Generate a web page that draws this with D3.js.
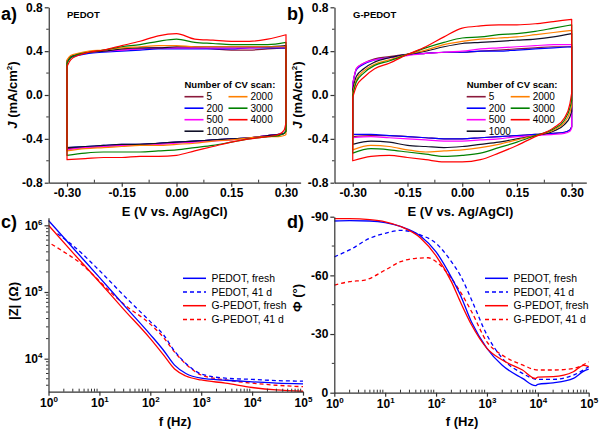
<!DOCTYPE html>
<html><head><meta charset="utf-8">
<script src="https://cdn.jsdelivr.net/npm/d3@7"></script>
<style>
body{margin:0;background:#fff;}
svg{display:block;font-family:Arial,"Liberation Sans",sans-serif;}
.ax .tick text{font-weight:bold;font-size:12px;fill:#000;}
.ax .domain,.ax .tick line{stroke:#333;stroke-width:1.2;}
</style></head><body>
<svg id="chart" width="600" height="430"></svg>
<script>
// ---------- CV data ----------
const cvScans = ["5", "200", "500", "1000", "2000", "3000", "4000"];
const cvColors = ["#8b1a3c", "#0000ff", "#ff00ff", "#101028", "#ff8000", "#008000", "#ff0000"];
const cvUpperE = [-0.30, -0.29, -0.27, -0.24, -0.20, -0.15, -0.10, -0.05, 0.00, 0.05, 0.10, 0.15, 0.20, 0.25, 0.30];
const cvLowerE = [0.30, 0.295, 0.28, 0.25, 0.20, 0.15, 0.10, 0.05, 0.00, -0.05, -0.10, -0.15, -0.20, -0.25, -0.30];
const eTicks = [-0.30, -0.15, 0.00, 0.15, 0.30];
const jTicks = [-0.8, -0.4, 0.0, 0.4, 0.8];

// PEDOT (panel a)
const pedotUpper = [
  [0.31, 0.35, 0.37, 0.39, 0.40, 0.41, 0.42, 0.43, 0.43, 0.43, 0.42, 0.41, 0.41, 0.42, 0.43],
  [0.30, 0.34, 0.36, 0.38, 0.39, 0.40, 0.41, 0.42, 0.42, 0.42, 0.42, 0.42, 0.43, 0.43, 0.43],
  [0.31, 0.35, 0.37, 0.39, 0.40, 0.41, 0.42, 0.43, 0.43, 0.43, 0.43, 0.43, 0.43, 0.44, 0.44],
  [0.31, 0.35, 0.37, 0.39, 0.40, 0.42, 0.43, 0.43, 0.44, 0.44, 0.44, 0.44, 0.44, 0.44, 0.45],
  [0.32, 0.36, 0.38, 0.40, 0.41, 0.43, 0.44, 0.45, 0.45, 0.44, 0.44, 0.44, 0.44, 0.44, 0.44],
  [0.29, 0.34, 0.37, 0.39, 0.41, 0.44, 0.46, 0.49, 0.51, 0.48, 0.47, 0.46, 0.46, 0.46, 0.48],
  [0.26, 0.32, 0.36, 0.39, 0.41, 0.45, 0.49, 0.54, 0.56, 0.51, 0.50, 0.49, 0.49, 0.51, 0.55]
];
const pedotLower = [
  [-0.33, -0.35, -0.36, -0.37, -0.39, -0.40, -0.41, -0.42, -0.43, -0.44, -0.45, -0.46, -0.47, -0.48, -0.49],
  [-0.32, -0.35, -0.36, -0.37, -0.39, -0.40, -0.41, -0.42, -0.43, -0.44, -0.45, -0.45, -0.46, -0.47, -0.48],
  [-0.33, -0.35, -0.36, -0.37, -0.39, -0.41, -0.42, -0.43, -0.44, -0.45, -0.46, -0.46, -0.47, -0.48, -0.50],
  [-0.33, -0.35, -0.36, -0.37, -0.39, -0.40, -0.41, -0.42, -0.43, -0.44, -0.45, -0.45, -0.46, -0.47, -0.48],
  [-0.36, -0.37, -0.38, -0.38, -0.39, -0.41, -0.42, -0.44, -0.45, -0.46, -0.46, -0.47, -0.48, -0.49, -0.51],
  [-0.33, -0.35, -0.37, -0.38, -0.40, -0.43, -0.46, -0.48, -0.50, -0.51, -0.52, -0.52, -0.52, -0.53, -0.55],
  [-0.25, -0.32, -0.36, -0.38, -0.40, -0.43, -0.47, -0.51, -0.55, -0.56, -0.56, -0.57, -0.57, -0.58, -0.59]
];
// G-PEDOT (panel b)
const gpedotUpper = [
  [0.10, 0.24, 0.29, 0.33, 0.35, 0.37, 0.38, 0.39, 0.39, 0.40, 0.41, 0.42, 0.43, 0.44, 0.44],
  [0.10, 0.23, 0.28, 0.32, 0.34, 0.37, 0.38, 0.39, 0.39, 0.40, 0.40, 0.41, 0.42, 0.43, 0.44],
  [0.10, 0.24, 0.29, 0.32, 0.34, 0.36, 0.38, 0.39, 0.40, 0.42, 0.43, 0.44, 0.45, 0.46, 0.46],
  [0.05, 0.17, 0.24, 0.30, 0.34, 0.37, 0.40, 0.44, 0.47, 0.48, 0.49, 0.50, 0.51, 0.53, 0.56],
  [0.02, 0.14, 0.22, 0.28, 0.32, 0.37, 0.41, 0.46, 0.49, 0.51, 0.52, 0.53, 0.55, 0.57, 0.59],
  [0.00, 0.12, 0.20, 0.27, 0.31, 0.37, 0.43, 0.48, 0.52, 0.53, 0.55, 0.56, 0.58, 0.61, 0.64],
  [-0.02, 0.08, 0.16, 0.24, 0.29, 0.37, 0.44, 0.53, 0.61, 0.63, 0.64, 0.64, 0.65, 0.67, 0.69]
];
const gpedotLower = [
  [-0.29, -0.32, -0.34, -0.35, -0.36, -0.37, -0.38, -0.39, -0.40, -0.40, -0.39, -0.38, -0.37, -0.37, -0.38],
  [-0.29, -0.32, -0.34, -0.35, -0.36, -0.37, -0.38, -0.39, -0.40, -0.40, -0.39, -0.38, -0.37, -0.36, -0.36],
  [-0.30, -0.33, -0.35, -0.36, -0.37, -0.38, -0.40, -0.41, -0.42, -0.42, -0.41, -0.40, -0.39, -0.38, -0.39],
  [-0.15, -0.20, -0.27, -0.33, -0.37, -0.40, -0.43, -0.45, -0.47, -0.48, -0.47, -0.46, -0.43, -0.42, -0.45],
  [-0.10, -0.16, -0.25, -0.32, -0.37, -0.41, -0.45, -0.48, -0.50, -0.51, -0.52, -0.50, -0.47, -0.46, -0.50],
  [-0.05, -0.12, -0.23, -0.31, -0.37, -0.43, -0.48, -0.53, -0.55, -0.56, -0.54, -0.52, -0.50, -0.49, -0.53],
  [0.02, -0.08, -0.21, -0.30, -0.38, -0.46, -0.53, -0.59, -0.61, -0.61, -0.59, -0.57, -0.55, -0.56, -0.60]
];

// ---------- EIS data ----------
const eisNames = ["PEDOT, fresh", "PEDOT, 41 d", "G-PEDOT, fresh", "G-PEDOT, 41 d"];
const eisColors = ["#0000ff", "#0000ff", "#ff0000", "#ff0000"];
const eisDashed = [false, true, false, true];
const fTicks = [1, 10, 100, 1000, 10000, 100000];
const zTicks = [1e4, 1e5, 1e6];
const phiTicks = [0, -30, -60, -90];

// |Z| (ohm) vs f (Hz)
const zFreqPedotFresh = [1, 3, 10, 30, 100, 180, 300, 500, 1000, 3000, 10000, 30000, 100000];
const zPedotFresh = [1.18e6, 4.6e5, 1.66e5, 6.4e4, 2.3e4, 1.35e4, 8000, 6000, 5100, 4750, 4500, 4300, 4200];
const zFreqPedot41 = [1.5, 3, 10, 30, 100, 180, 300, 500, 1000, 3000, 10000, 30000, 100000];
const zPedot41 = [7.5e5, 5.0e5, 2.1e5, 8.9e4, 3.6e4, 2.3e4, 1.3e4, 8500, 5900, 5100, 4900, 4700, 4600];
const zFreqGPedotFresh = [1, 3, 10, 30, 100, 180, 300, 500, 1000, 3000, 10000, 30000, 100000];
const zGPedotFresh = [1.0e6, 3.9e5, 1.41e5, 5.5e4, 2.0e4, 1.15e4, 7000, 5500, 4800, 4300, 3700, 3400, 3250];
const zFreqGPedot41 = [1.15, 2, 4, 7, 15, 30, 100, 180, 300, 500, 1000, 3000, 10000, 30000, 100000];
const zGPedot41 = [5.2e5, 4.0e5, 2.8e5, 1.9e5, 1.07e5, 6.6e4, 3.3e4, 2.1e4, 1.26e4, 8300, 5700, 4800, 4300, 4000, 3800];

// phase (deg) vs f (Hz)
const pFreqFresh = [1, 2, 5, 10, 20, 50, 100, 200, 300, 500, 1000, 2000, 5000, 9000, 10000, 20000, 50000, 80000, 100000];
const phiPedotFresh = [-87.8, -88, -87.8, -87, -85, -80, -72, -59, -50, -36, -22.7, -14, -7.3, -3.6, -4.3, -5, -7.3, -11, -12];
const phiGPedotFresh = [-89, -89, -88.5, -87.4, -85, -79, -70, -56.8, -46.5, -34.6, -22.7, -16.7, -11.6, -7.3, -8, -8.2, -10.7, -14, -13.3];
const pFreqPedot41 = [1, 2, 5, 10, 20, 50, 100, 200, 300, 500, 1000, 2000, 5000, 10000, 20000, 50000, 100000];
const phiPedot41 = [-69.5, -73, -79, -81.5, -83, -80.6, -76.4, -67, -60, -47.4, -29.5, -17.6, -9.9, -6.8, -6.8, -9, -13.3];
const pFreqGPedot41 = [1, 2, 4, 10, 20, 40, 70, 100, 200, 300, 500, 1000, 2000, 5000, 10000, 20000, 50000, 100000];
const phiGPedot41 = [-55, -56.8, -57.6, -62.7, -67, -68.7, -69, -67, -58.5, -51.6, -41.4, -26, -19.2, -14.2, -11.6, -11.6, -12.4, -15.8];

// ---------- drawing ----------
const svg = d3.select("#chart");

function label(x, y, txt, size, weight, anchor) {
  return svg.append("text").attr("x", x).attr("y", y).attr("font-size", size)
    .attr("font-weight", weight || "bold").attr("text-anchor", anchor || "start").text(txt);
}

function minorTicks(g, vals, pos, len, horizontal) {
  vals.forEach(v => {
    if (horizontal) g.append("line").attr("x1", v).attr("x2", v).attr("y1", pos).attr("y2", pos + len).attr("stroke", "#333").attr("stroke-width", 1);
    else g.append("line").attr("y1", v).attr("y2", v).attr("x1", pos).attr("x2", pos + len).attr("stroke", "#333").attr("stroke-width", 1);
  });
}

function cvPanel(cfg, upper, lower) {
  const x = d3.scaleLinear().domain([-0.35, 0.34]).range([cfg.x0, cfg.x1]);
  const y = d3.scaleLinear().domain([-0.8, 0.8]).range([182.7, 7.3]);
  const g = svg.append("g");
  const branch = d3.line().x(d => x(d[0])).y(d => y(d[1])).curve(d3.curveMonotoneX);
  cvScans.forEach((s, i) => {
    const up = cvUpperE.map((e, k) => [e, upper[i][k]]);
    const lo = cvLowerE.map((e, k) => [e, lower[i][k]]);
    const d = branch(up) + branch(lo).replace(/^M/, "L") + "Z";
    g.append("path").attr("d", d).attr("fill", "none").attr("stroke", cvColors[i])
      .attr("stroke-width", 1.2).attr("stroke-linejoin", "round");
  });
  const ax = svg.append("g").attr("class", "ax");
  ax.append("g").attr("transform", `translate(0,${y(-0.8)})`)
    .call(d3.axisBottom(x).tickValues(eTicks).tickFormat(d => d.toFixed(2)).tickSize(4).tickPadding(2).tickSizeOuter(0));
  ax.append("g").attr("transform", `translate(${x(-0.35)},0)`)
    .call(d3.axisLeft(y).tickValues(jTicks).tickFormat(d => d.toFixed(1)).tickSize(4).tickPadding(2).tickSizeOuter(0));
  minorTicks(ax, [-0.225, -0.075, 0.075, 0.225].map(x), y(-0.8), -3, true);
  minorTicks(ax, [-0.6, -0.2, 0.2, 0.6].map(y), x(-0.35), -2.5, false);
  label(cfg.sampleX, 18, cfg.sample, 9.5);
  label(cfg.panelX, 20, cfg.panel, 18);
  label((cfg.x0 + cfg.x1) / 2, 216, "E (V vs. Ag/AgCl)", 13, "bold", "middle");
  const t = svg.append("text").attr("transform", `translate(${cfg.ytX},95) rotate(-90)`)
    .attr("text-anchor", "middle").attr("font-size", 13).attr("font-weight", "bold");
  t.append("tspan").attr("font-style", "italic").text("J");
  t.append("tspan").text(" (mA/cm");
  t.append("tspan").attr("font-size", 8).attr("dy", -5).text("2");
  t.append("tspan").attr("dy", 5).text(")");
  label(cfg.legX, 88, "Number of CV scan:", 9.5);
  cvScans.forEach((s, i) => {
    const col = i < 4 ? 0 : 1, row = i < 4 ? i : i - 4;
    const lx = cfg.legX + col * 44, ly = 96.7 + row * 11.5;
    svg.append("line").attr("x1", lx).attr("x2", lx + 19).attr("y1", ly).attr("y2", ly)
      .attr("stroke", cvColors[i]).attr("stroke-width", 1.6);
    svg.append("text").attr("x", lx + 22).attr("y", ly).attr("dy", "0.35em").attr("font-size", 10).text(s);
  });
}

cvPanel({x0: 48.75, x1: 300.6, sample: "PEDOT", sampleX: 67, panel: "a)", panelX: 1, ytX: 17, legX: 184.5}, pedotUpper, pedotLower);
cvPanel({x0: 334.5, x1: 586.3, sample: "G-PEDOT", sampleX: 353, panel: "b)", panelX: 287, ytX: 302, legX: 466.7}, gpedotUpper, gpedotLower);

function logLabels(sel) {
  sel.selectAll(".tick").each(function(d) {
    const t = d3.select(this).select("text");
    t.text(null);
    t.append("tspan").text("10");
    t.append("tspan").attr("font-size", 8).attr("dy", -5).text(Math.round(Math.log10(d)));
  });
}

function eisLegend(x0) {
  eisNames.forEach((n, i) => {
    const ly = 278.3 + i * 13.7;
    svg.append("line").attr("x1", x0).attr("x2", x0 + 23).attr("y1", ly).attr("y2", ly)
      .attr("stroke", eisColors[i]).attr("stroke-width", 1.5).attr("stroke-dasharray", eisDashed[i] ? "4,3" : null);
    svg.append("text").attr("x", x0 + 28.5).attr("y", ly).attr("dy", "0.35em").attr("font-size", 10.4).text(n);
  });
}

function freqMinor(x) {
  const v = [];
  for (let k = 0; k < 5; k++) for (let m = 2; m <= 9; m++) v.push(x(m * Math.pow(10, k)));
  return v;
}

// Panel c
(function() {
  const x = d3.scaleLog().domain([1, 1e5]).range([48.5, 303]);
  const y = d3.scaleLog().domain([3200, 1.3e6]).range([391.7, 217.7]);
  const line = d3.line().x(d => x(d[0])).y(d => y(d[1])).curve(d3.curveMonotoneX);
  const sets = [[zFreqPedotFresh, zPedotFresh], [zFreqPedot41, zPedot41], [zFreqGPedotFresh, zGPedotFresh], [zFreqGPedot41, zGPedot41]];
  [3, 1, 2, 0].forEach(i => {
    const pts = sets[i][0].map((f, k) => [f, sets[i][1][k]]);
    svg.append("path").attr("d", line(pts)).attr("fill", "none").attr("stroke", eisColors[i])
      .attr("stroke-width", 1.3).attr("stroke-dasharray", eisDashed[i] ? "4,3" : null);
  });
  const ax = svg.append("g").attr("class", "ax");
  ax.append("g").attr("transform", `translate(0,${y.range()[0]})`)
    .call(d3.axisBottom(x).tickValues(fTicks).tickSize(4).tickPadding(3).tickSizeOuter(0)).call(logLabels);
  ax.append("g").attr("transform", `translate(${x(1)},0)`)
    .call(d3.axisLeft(y).tickValues(zTicks).tickSize(4).tickPadding(2).tickSizeOuter(0)).call(logLabels);
  minorTicks(ax, freqMinor(x), y.range()[0], -3, true);
  const ym = [];
  [1e3, 1e4, 1e5].forEach(b => { for (let m = 2; m <= 9; m++) if (m * b >= 3200 && m * b <= 1.3e6) ym.push(y(m * b)); });
  minorTicks(ax, ym, x(1), -2.5, false);
  label(1, 228, "c)", 18);
  label(175, 426, "f (Hz)", 13, "bold", "middle");
  svg.append("text").attr("transform", "translate(18,301) rotate(-90)").attr("text-anchor", "middle")
    .attr("font-size", 13).attr("font-weight", "bold").text("|Z| (\u03A9)");
  eisLegend(183);
})();

// Panel d
(function() {
  const x = d3.scaleLog().domain([1, 1e5]).range([334.3, 588.7]);
  const y = d3.scaleLinear().domain([0, -90]).range([392.7, 216.7]);
  const line = d3.line().x(d => x(d[0])).y(d => y(d[1])).curve(d3.curveMonotoneX);
  const sets = [[pFreqFresh, phiPedotFresh], [pFreqPedot41, phiPedot41], [pFreqFresh, phiGPedotFresh], [pFreqGPedot41, phiGPedot41]];
  [3, 1, 0, 2].forEach(i => {
    const pts = sets[i][0].map((f, k) => [f, sets[i][1][k]]);
    svg.append("path").attr("d", line(pts)).attr("fill", "none").attr("stroke", eisColors[i])
      .attr("stroke-width", 1.3).attr("stroke-dasharray", eisDashed[i] ? "4,3" : null);
  });
  const ax = svg.append("g").attr("class", "ax");
  ax.append("g").attr("transform", `translate(0,${y(0)})`)
    .call(d3.axisBottom(x).tickValues(fTicks).tickSize(4).tickPadding(3).tickSizeOuter(0)).call(logLabels);
  ax.append("g").attr("transform", `translate(${x(1)},0)`)
    .call(d3.axisLeft(y).tickValues(phiTicks).tickFormat(d => String(d)).tickSize(4).tickPadding(2).tickSizeOuter(0));
  minorTicks(ax, freqMinor(x), y(0), -3, true);
  minorTicks(ax, [-15, -45, -75].map(y), x(1), -2.5, false);
  label(287, 228, "d)", 18);
  label(462, 426, "f (Hz)", 13, "bold", "middle");
  svg.append("text").attr("transform", "translate(302,298) rotate(-90)").attr("text-anchor", "middle")
    .attr("font-size", 13).attr("font-weight", "bold").text("\u03A6 (\u00B0)");
  eisLegend(485);
})();
</script></body></html>
